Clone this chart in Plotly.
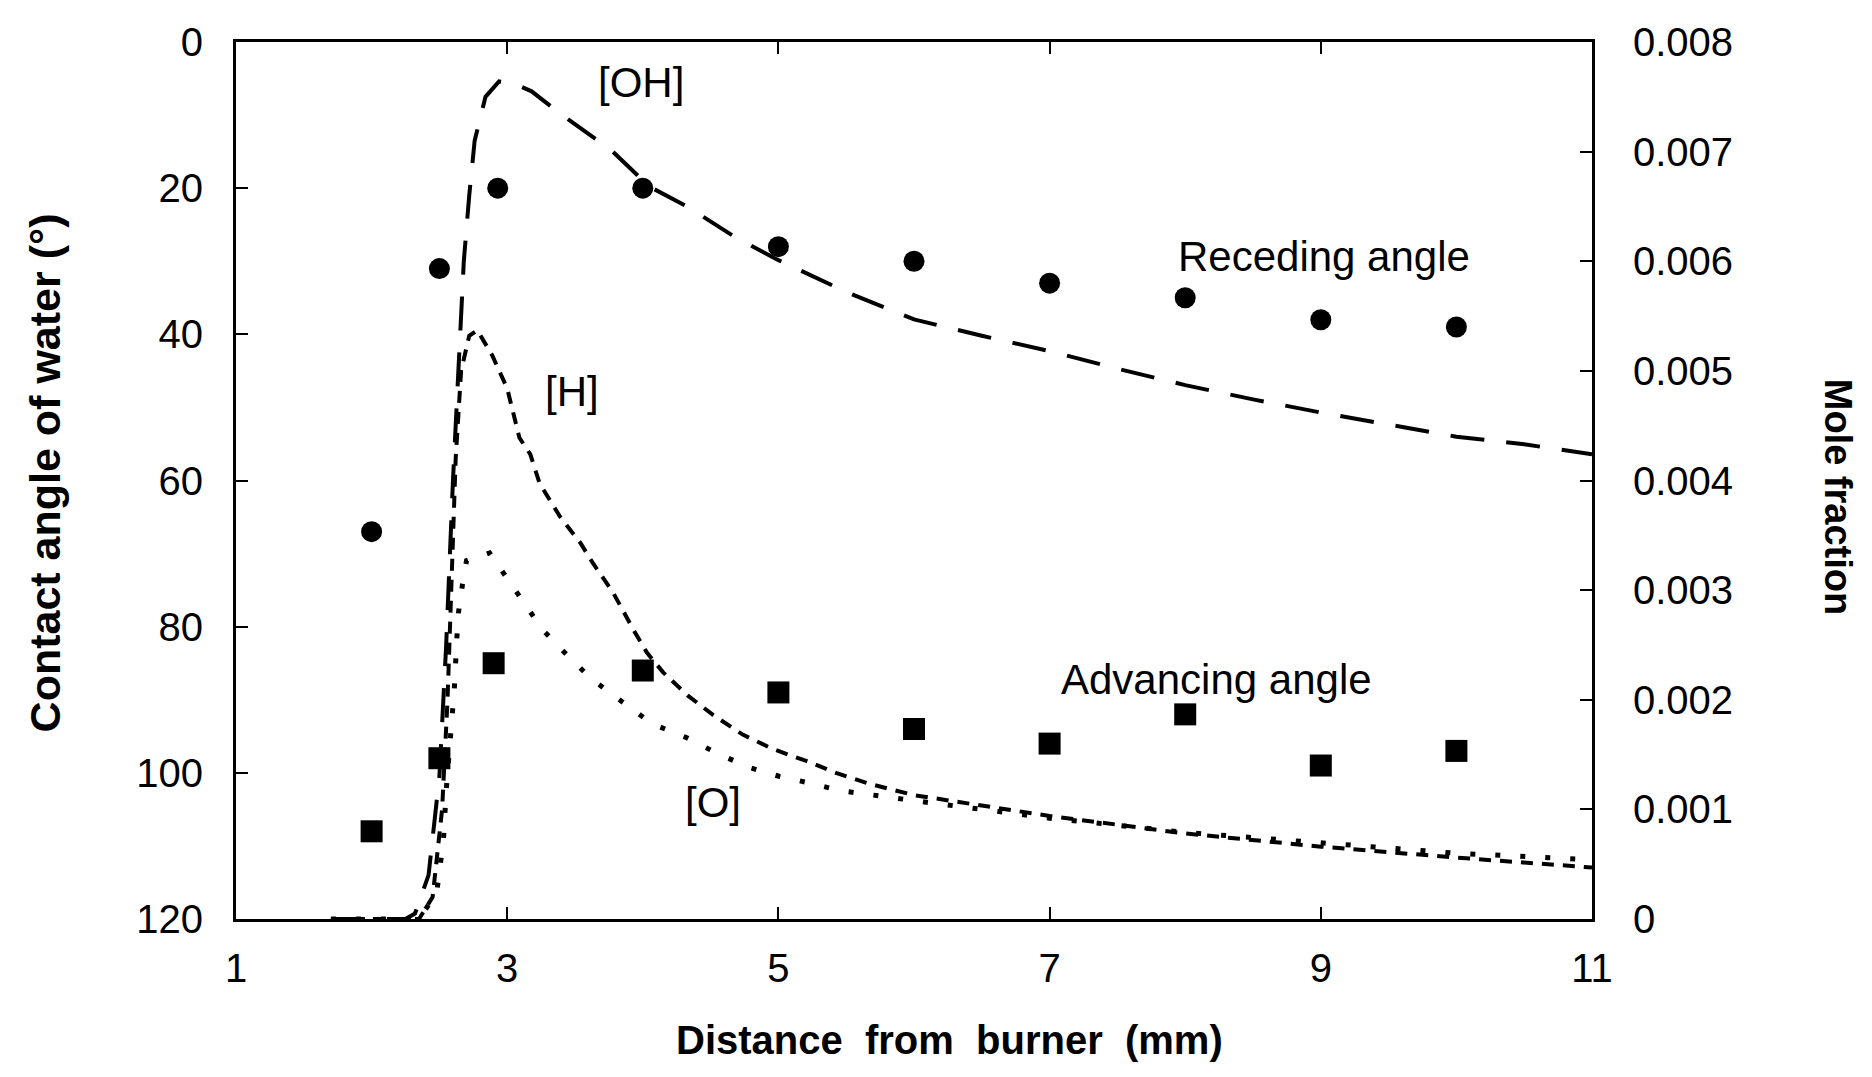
import plotly.graph_objects as go

# Measured contact angles (left axis, degrees)
dist_pts = [2.0, 2.5, 2.93, 4.0, 5.0, 6.0, 7.0, 8.0, 9.0, 10.0]
receding = [67, 31, 20, 20, 28, 30, 33, 35, 38, 39]
adv_x = [2.0, 2.5, 2.9, 4.0, 5.0, 6.0, 7.0, 8.0, 9.0, 10.0]
advancing = [108, 98, 85, 86, 89, 94, 96, 92, 99, 97]

# Mole fraction profiles (right axis)
oh_x = [1.7, 2.25, 2.32, 2.42, 2.50, 2.55, 2.60, 2.64, 2.68, 2.72, 2.76, 2.84, 2.94, 3.05,
        3.18, 3.41, 3.77, 4.05, 4.34, 4.68, 5.0, 5.5, 6.0, 6.5, 7.0, 7.5, 8.0, 8.5, 9.0,
        9.5, 10.0, 10.5, 11.0]
oh_y = [0, 0, 0.00005, 0.0004, 0.0013, 0.0025, 0.0040, 0.0050, 0.0060, 0.0066, 0.0071,
        0.0075, 0.00764, 0.00762, 0.00755, 0.00733, 0.00701, 0.00668, 0.00649, 0.00622,
        0.00601, 0.00572, 0.00547, 0.00532, 0.00518, 0.00502, 0.00487, 0.00474, 0.00462,
        0.00451, 0.00440, 0.00433, 0.00424]

h_x = [1.7, 2.35, 2.45, 2.52, 2.56, 2.59, 2.62, 2.66, 2.72, 2.78, 2.89, 3.00, 3.09, 3.17,
       3.24, 3.39, 3.54, 3.63, 3.78, 3.93, 4.03, 4.15, 4.33, 4.52, 4.74, 4.96, 5.21, 5.43,
       5.68, 6.0, 7.0, 8.0, 9.0, 10.0, 11.0]
h_y = [0, 0, 0.0002, 0.0010, 0.0020, 0.0030, 0.0042, 0.0050, 0.00532, 0.00537, 0.00514,
       0.00484, 0.00439, 0.00424, 0.00397, 0.00367, 0.00343, 0.00325, 0.00298, 0.00264,
       0.00243, 0.00225, 0.00204, 0.00186, 0.00168, 0.00155, 0.00144, 0.00133, 0.00123,
       0.00113, 0.00094, 0.00078, 0.00066, 0.00056, 0.00047]

o_x = [1.7, 2.35, 2.48, 2.53, 2.55, 2.58, 2.61, 2.63, 2.64, 2.67, 2.70, 2.87, 3.00, 3.14,
       3.26, 3.44, 3.62, 3.85, 4.07, 4.33, 4.55, 4.79, 5.01, 5.23, 5.46, 6.0, 7.0, 8.0,
       9.0, 10.0, 11.0]
o_y = [0, 0, 0.00024, 0.00072, 0.00117, 0.00165, 0.00210, 0.00259, 0.00279, 0.00305,
       0.00327, 0.00334, 0.00310, 0.00286, 0.00264, 0.00241, 0.00219, 0.00198, 0.00178,
       0.00165, 0.00151, 0.00138, 0.00130, 0.00124, 0.00117, 0.00108, 0.00092, 0.00079,
       0.00069, 0.00060, 0.00054]

x_ticks = [1, 3, 5, 7, 9, 11]
left_ticks = [0, 20, 40, 60, 80, 100, 120]
right_ticks = [0, 0.001, 0.002, 0.003, 0.004, 0.005, 0.006, 0.007, 0.008]
right_labels = ["0", "0.001", "0.002", "0.003", "0.004", "0.005", "0.006", "0.007", "0.008"]

FONT = "Liberation Sans, Arial, sans-serif"

fig = go.Figure()

fig.add_trace(go.Scatter(x=oh_x, y=oh_y, yaxis="y2", mode="lines",
                         line=dict(color="black", width=4, dash="34px,22px"), showlegend=False))
fig.add_trace(go.Scatter(x=h_x, y=h_y, yaxis="y2", mode="lines",
                         line=dict(color="black", width=4, dash="12px,9px"), showlegend=False))
fig.add_trace(go.Scatter(x=o_x, y=o_y, yaxis="y2", mode="lines",
                         line=dict(color="black", width=5, dash="5px,20px"), showlegend=False))

fig.add_trace(go.Scatter(x=dist_pts, y=receding, mode="markers",
                         marker=dict(symbol="circle", size=21, color="black"), showlegend=False))
fig.add_trace(go.Scatter(x=adv_x, y=advancing, mode="markers",
                         marker=dict(symbol="square", size=22, color="black"), showlegend=False))

# page body has an 8px margin, so the figure is sized/offset to compensate
fig.update_layout(
    width=1856, height=1061,
    margin=dict(l=228, r=272, t=25, b=150),
    plot_bgcolor="white", paper_bgcolor="white",
    font=dict(family=FONT, color="black", size=40),
    xaxis=dict(range=[1, 11], tickvals=x_ticks, ticktext=[str(v) for v in x_ticks],
               showline=True, linecolor="black", linewidth=3, mirror="ticks",
               ticks="inside", ticklen=12, tickwidth=2, tickcolor="black",
               showgrid=False, zeroline=False, ticklabelstandoff=12,
               tickfont=dict(size=40)),
    yaxis=dict(range=[120, 0], tickvals=left_ticks, ticktext=[str(v) for v in left_ticks],
               showline=True, linecolor="black", linewidth=3,
               ticks="inside", ticklen=12, tickwidth=2, tickcolor="black",
               showgrid=False, zeroline=False, ticklabelstandoff=22,
               tickfont=dict(size=40)),
    yaxis2=dict(range=[0, 0.008], tickvals=right_ticks, ticktext=right_labels,
                overlaying="y", side="right", anchor="x",
                showline=True, linecolor="black", linewidth=3,
                ticks="inside", ticklen=12, tickwidth=2, tickcolor="black",
                showgrid=False, zeroline=False, ticklabelstandoff=30,
                tickfont=dict(size=40)),
)

annots = [
    dict(text="[OH]", x=3.99, y=5.5, size=42),
    dict(text="[H]", x=3.48, y=47.8, size=42),
    dict(text="[O]", x=4.52, y=104.1, size=42),
    dict(text="Receding angle", x=9.02, y=29.3, size=42),
    dict(text="Advancing angle", x=8.23, y=87.2, size=42),
]
for a in annots:
    fig.add_annotation(text=a["text"], x=a["x"], y=a["y"], xref="x", yref="y",
                       showarrow=False, xanchor="center", yanchor="middle",
                       font=dict(family=FONT, size=a["size"], color="black"))

fig.add_annotation(text="<b>Contact angle of water (°)</b>", xref="paper", yref="paper",
                   x=-0.141, y=0.509, textangle=-90, showarrow=False,
                   xanchor="center", yanchor="middle",
                   font=dict(family=FONT, size=43, color="black"))
fig.add_annotation(text="<b>Mole fraction</b>", xref="paper", yref="paper",
                   x=1.181, y=0.481, textangle=90, showarrow=False,
                   xanchor="center", yanchor="middle",
                   font=dict(family=FONT, size=38, color="black"))
fig.add_annotation(text="<b>Distance  from  burner  (mm)</b>", xref="paper", yref="paper",
                   x=0.526, y=-0.138, showarrow=False,
                   xanchor="center", yanchor="middle",
                   font=dict(family=FONT, size=40, color="black"))

fig.write_html("out.html")
